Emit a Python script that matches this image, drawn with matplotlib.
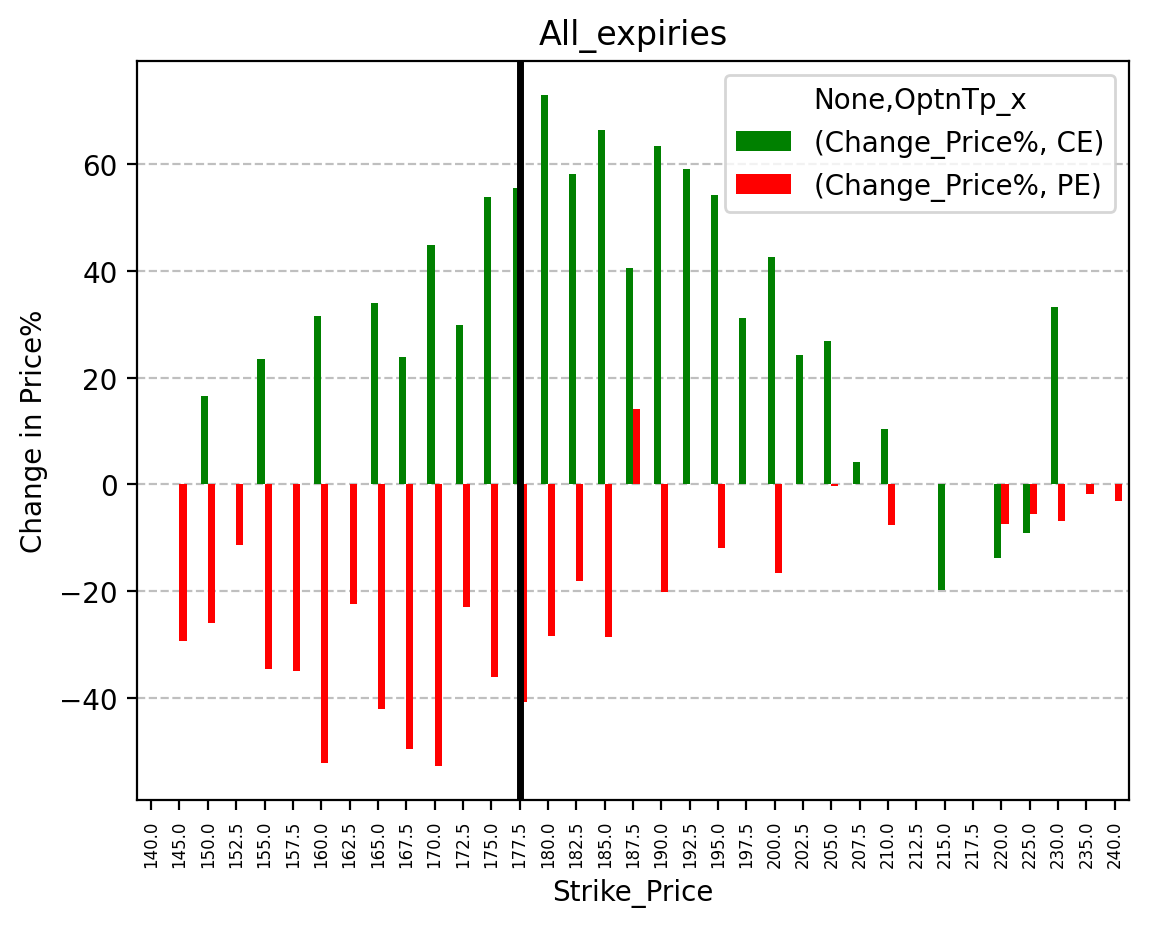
import numpy as np
import matplotlib
matplotlib.use("Agg")
import matplotlib.pyplot as plt

strikes = ["140.0", "145.0", "150.0", "152.5", "155.0", "157.5", "160.0", "162.5", "165.0",
           "167.5", "170.0", "172.5", "175.0", "177.5", "180.0", "182.5", "185.0", "187.5",
           "190.0", "192.5", "195.0", "197.5", "200.0", "202.5", "205.0", "207.5", "210.0",
           "212.5", "215.0", "217.5", "220.0", "225.0", "230.0", "235.0", "240.0"]
nan = np.nan
ce_values = [nan, nan, 16.6, nan, 23.5, nan, 31.6, nan, 34.1,
             23.9, 44.9, 29.8, 53.9, 55.6, 73.1, 58.2, 66.5, 40.6,
             63.5, 59.2, 54.3, 31.2, 42.7, 24.3, 26.9, 4.1, 10.4,
             nan, -19.9, nan, -13.9, -9.1, 33.3, nan, nan]
pe_values = [nan, -29.4, -26.1, -11.4, -34.7, -35.1, -52.3, -22.5, -42.2,
             -49.7, -52.9, -23.1, -36.2, -40.9, -28.5, -18.2, -28.7, 14.2,
             -20.2, nan, -12.0, nan, -16.7, nan, -0.3, nan, -7.7,
             nan, nan, nan, -7.4, -5.5, -6.8, -1.9, -3.1]
spot_strike = "177.5"

fig = plt.figure(figsize=(1149 / 200, 929 / 200), dpi=200)
ax = fig.add_axes([0.1192, 0.1378, 0.9826 - 0.1192, 0.9333 - 0.1378])

x = np.arange(len(strikes))
w = 0.25
ax.bar(x - w / 2, np.nan_to_num(ce_values), width=w, color="green", label="(Change_Price%, CE)")
ax.bar(x + w / 2, np.nan_to_num(pe_values), width=w, color="red", label="(Change_Price%, PE)")

ax.set_xlim(-0.5, len(strikes) - 0.5)
ax.set_xticks(x)
ax.set_xticklabels(strikes, rotation=90, fontsize=6)
ax.grid(axis="y", linestyle="--", color="gray", alpha=0.5)
ax.set_axisbelow(True)
ax.axvline(strikes.index(spot_strike), color="black", linewidth=2.5)

ax.set_title("All_expiries", fontsize=12)
ax.set_xlabel("Strike_Price", fontsize=10)
ax.set_ylabel("Change in Price%", fontsize=10)
ax.legend(title="None,OptnTp_x", loc="upper right")

fig.savefig("out.png", dpi=200)
